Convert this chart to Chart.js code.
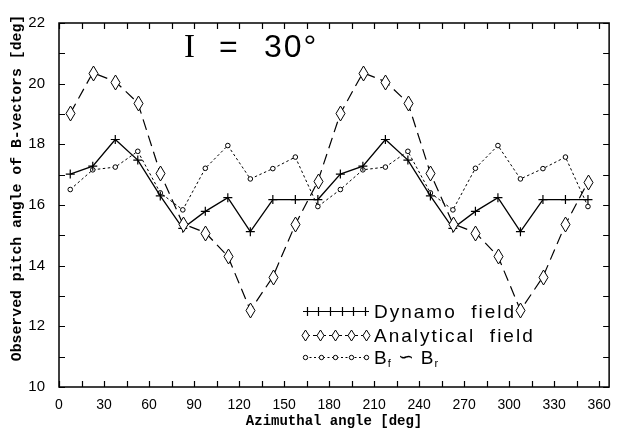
<!DOCTYPE html>
<html>
<head>
<meta charset="utf-8">
<script src="https://cdn.jsdelivr.net/npm/chart.js@4.4.1/dist/chart.umd.min.js"></script>
<style>
  html, body { margin: 0; padding: 0; background: #fff; }
</style>
</head>
<body>
<canvas id="chart" width="621" height="430"></canvas>
<script>
// azimuthal angle of each sample, deg
const azimuth = [7.5, 22.5, 37.5, 52.5, 67.5, 82.5, 97.5, 112.5, 127.5, 142.5, 157.5, 172.5,
  187.5, 202.5, 217.5, 232.5, 247.5, 262.5, 277.5, 292.5, 307.5, 322.5, 337.5, 352.5];

const dynamo = [17.02, 17.28, 18.16, 17.48, 16.30, 15.23, 15.79, 16.24, 15.12, 16.18, 16.18, 16.18,
  17.02, 17.28, 18.16, 17.48, 16.30, 15.23, 15.79, 16.24, 15.12, 16.18, 16.18, 16.18];

const analytical = [19.02, 20.36, 20.07, 19.37, 17.05, 15.38, 15.09, 14.31, 12.53, 13.63, 15.36, 16.78,
  19.02, 20.36, 20.07, 19.37, 17.05, 15.38, 15.09, 14.31, 12.53, 13.63, 15.36, 16.76];

const bfBr = [16.51, 17.16, 17.25, 17.77, 16.40, 15.84, 17.21, 17.96, 16.86, 17.20, 17.58, 15.95,
  16.51, 17.16, 17.25, 17.77, 16.40, 15.84, 17.21, 17.96, 16.86, 17.20, 17.58, 15.95];

const xTicks = [0, 30, 60, 90, 120, 150, 180, 210, 240, 270, 300, 330, 360];
const xMinor = [15, 45, 75, 105, 135, 165, 195, 225, 255, 285, 315, 345];
const yTicks = [10, 12, 14, 16, 18, 20, 22];
const yMinor = [11, 13, 15, 17, 19, 21];

const labels = ["Dynamo", "field", "Analytical", "field"];

function diamondPath(ctx, cx, cy, hw, hh) {
  ctx.beginPath();
  ctx.moveTo(cx, cy - hh);
  ctx.lineTo(cx + hw, cy);
  ctx.lineTo(cx, cy + hh);
  ctx.lineTo(cx - hw, cy);
  ctx.closePath();
  ctx.fillStyle = "#fff";
  ctx.fill();
  ctx.stroke();
}

const pts = (ys) => ys.map((y, i) => ({ x: azimuth[i], y }));

const framePlugin = {
  id: "frame",
  beforeDatasetsDraw(chart) {
    const { ctx, chartArea: a, scales } = chart;
    const { x, y } = scales;
    ctx.save();
    ctx.strokeStyle = "#000";
    ctx.lineWidth = 1.5;
    ctx.strokeRect(a.left, a.top, a.right - a.left, a.bottom - a.top);
    ctx.lineWidth = 1.2;
    ctx.beginPath();
    for (const v of xTicks.concat(xMinor)) {
      const px = Math.round(x.getPixelForValue(v)) + 0.5;
      ctx.moveTo(px, a.bottom); ctx.lineTo(px, a.bottom - 6);
      ctx.moveTo(px, a.top); ctx.lineTo(px, a.top + 6);
    }
    for (const v of yTicks.concat(yMinor)) {
      const py = Math.round(y.getPixelForValue(v)) + 0.5;
      ctx.moveTo(a.left, py); ctx.lineTo(a.left + 6, py);
      ctx.moveTo(a.right, py); ctx.lineTo(a.right - 6, py);
    }
    ctx.stroke();
    ctx.restore();
  },
  afterDatasetsDraw(chart) {
    // diamond markers for the analytical series, placed by the chart's own scales
    const { ctx } = chart;
    const meta = chart.getDatasetMeta(1);
    ctx.save();
    ctx.strokeStyle = "#000";
    ctx.lineWidth = 1;
    for (const el of meta.data) {
      diamondPath(ctx, Math.round(el.x) + 0.5, Math.round(el.y) + 0.5, 4.5, 7.5);
    }
    ctx.restore();
  },
  afterDraw(chart) {
    const { ctx } = chart;
    ctx.save();
    ctx.fillStyle = "#000";
    ctx.strokeStyle = "#000";

    // y axis title
    ctx.save();
    ctx.translate(17, 188);
    ctx.rotate(-Math.PI / 2);
    ctx.font = "bold 14.8px 'Liberation Mono'";
    ctx.textAlign = "center";
    ctx.textBaseline = "middle";
    ctx.fillText("Observed pitch angle of B-vectors [deg]", 0, 0);
    ctx.restore();

    // panel label
    ctx.textBaseline = "alphabetic";
    ctx.textAlign = "left";
    ctx.font = "33px 'Liberation Serif'";
    ctx.fillText("I", 184, 57);
    ctx.font = "32px 'Liberation Sans'";
    ctx.fillText("=", 219, 57);
    ctx.letterSpacing = "2px";
    ctx.fillText("30°", 264, 57);
    ctx.letterSpacing = "0px";

    // legend
    ctx.lineWidth = 1.2;
    ctx.setLineDash([]);
    ctx.beginPath();
    ctx.moveTo(303, 311.5); ctx.lineTo(369, 311.5);
    const px6 = [307, 318, 330, 342, 353, 365];
    for (const px of px6) {
      ctx.moveTo(px + 0.5, 307); ctx.lineTo(px + 0.5, 316);
    }
    ctx.stroke();
    // Analytical
    const dx = [305, 320, 335, 351, 366];
    ctx.lineWidth = 1;
    ctx.setLineDash([5, 3]);
    ctx.beginPath();
    ctx.moveTo(dx[0], 335.5); ctx.lineTo(dx[4], 335.5);
    ctx.stroke();
    ctx.setLineDash([]);
    for (const px of dx) diamondPath(ctx, px + 0.5, 335.5, 3.5, 5.5);
    // Bf ~ Br
    const cx = [305, 321, 335, 351, 366];
    ctx.setLineDash([2, 2.5]);
    ctx.beginPath();
    ctx.moveTo(cx[0], 357.5); ctx.lineTo(cx[4], 357.5);
    ctx.stroke();
    ctx.setLineDash([]);
    for (const px of cx) {
      ctx.beginPath();
      ctx.arc(px + 0.5, 357.5, 2.2, 0, Math.PI * 2);
      ctx.fillStyle = "#fff"; ctx.fill();
      ctx.stroke();
    }
    ctx.fillStyle = "#000";
    ctx.font = "19px 'Liberation Sans'";
    ctx.letterSpacing = "2px";
    ctx.fillText(labels[0] + "  " + labels[1], 374, 318);
    ctx.fillText(labels[2] + "  " + labels[3], 374, 342);
    let tx = 374;
    ctx.fillText("B", tx, 364); tx += ctx.measureText("B").width - 1;
    ctx.font = "11px 'Liberation Sans'";
    ctx.letterSpacing = "0px";
    ctx.fillText("f", tx, 367); tx += ctx.measureText("f").width + 7;
    ctx.font = "19px 'Liberation Sans'";
    ctx.fillText("∽", tx, 363); tx += ctx.measureText("∽").width + 7;
    ctx.letterSpacing = "2px";
    ctx.fillText("B", tx, 364); tx += ctx.measureText("B").width - 1;
    ctx.font = "11px 'Liberation Sans'";
    ctx.letterSpacing = "0px";
    ctx.fillText("r", tx, 367);
    ctx.restore();
  },
};

new Chart(document.getElementById("chart"), {
  type: "line",
  data: {
    datasets: [
      {
        label: "Dynamo field",
        data: pts(dynamo),
        borderColor: "#000",
        borderWidth: 1.3,
        pointStyle: "cross",
        pointRadius: 4.5,
        pointBorderWidth: 1.2,
        pointBorderColor: "#000",
        tension: 0,
      },
      {
        label: "Analytical field",
        data: pts(analytical),
        borderColor: "#000",
        borderWidth: 1.2,
        borderDash: [11, 6],
        pointRadius: 0,
        tension: 0,
      },
      {
        label: "Bf ∽ Br",
        data: pts(bfBr),
        borderColor: "#000",
        borderWidth: 1,
        borderDash: [2.5, 2.5],
        pointStyle: "circle",
        pointRadius: 2.3,
        pointBorderWidth: 1,
        pointBorderColor: "#000",
        pointBackgroundColor: "#fff",
        tension: 0,
      },
    ],
  },
  options: {
    responsive: false,
    animation: false,
    layout: { padding: { top: 13, right: 5, left: 0, bottom: 0 } },
    plugins: { legend: { display: false }, tooltip: { enabled: false } },
    scales: {
      x: {
        type: "linear",
        min: 0,
        max: 366.6,
        afterBuildTicks: (s) => { s.ticks = xTicks.map((v) => ({ value: v })); },
        afterFit: (s) => { s.height = 43; },
        grid: { display: false, drawTicks: false },
        border: { display: false },
        ticks: {
          padding: 10,
          autoSkip: false,
          maxRotation: 0,
          color: "#000",
          font: { family: "'Liberation Sans'", size: 14 },
        },
        title: {
          display: true,
          text: "Azimuthal angle [deg]",
          color: "#000",
          padding: { top: 0, bottom: 0 },
          font: { family: "'Liberation Mono'", size: 14, weight: "bold" },
        },
      },
      y: {
        min: 10,
        max: 22,
        afterBuildTicks: (s) => { s.ticks = yTicks.map((v) => ({ value: v })); },
        afterFit: (s) => { s.width = 59; },
        grid: { display: false, drawTicks: false },
        border: { display: false },
        ticks: {
          padding: 14,
          color: "#000",
          font: { family: "'Liberation Sans'", size: 15 },
        },
      },
    },
  },
  plugins: [framePlugin],
});
</script>
</body>
</html>
